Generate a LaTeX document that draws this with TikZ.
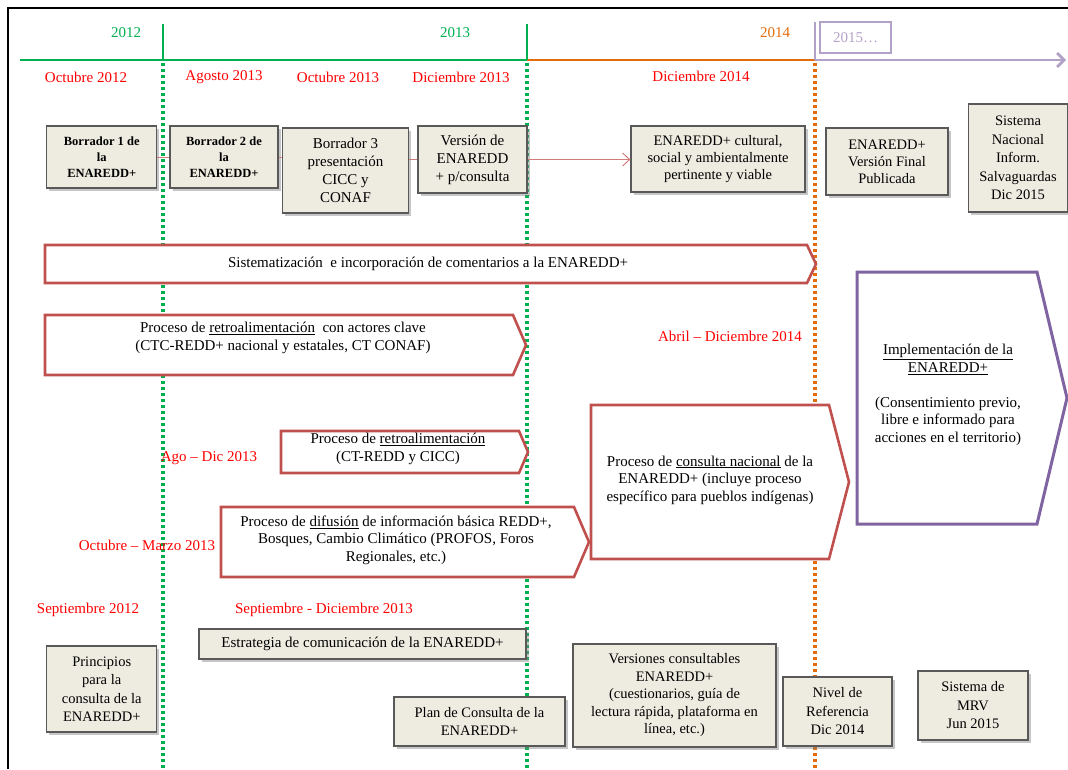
\documentclass[tikz,border=0pt]{standalone}
\usepackage{fontspec}
\setmainfont{Liberation Serif}
\usetikzlibrary{shadows,arrows.meta}
\definecolor{tlgreen}{RGB}{0,176,80}
\definecolor{tlorange}{RGB}{228,108,10}
\definecolor{tlpurple}{RGB}{179,162,199}
\definecolor{impurple}{RGB}{128,100,162}
\definecolor{arrred}{RGB}{192,80,77}
\definecolor{boxfill}{RGB}{238,236,225}
\definecolor{boxdraw}{RGB}{89,89,89}
\tikzset{
  every node/.style={font=\fontsize{15}{17.5}\selectfont},
  box/.style={draw=boxdraw,line width=1.3pt,fill=boxfill,align=center,inner sep=1pt,
    drop shadow={shadow xshift=2.5pt,shadow yshift=-2.5pt,opacity=.45}},
  redlbl/.style={text=red,inner sep=0pt},
  pent/.style={draw=arrred,line width=2.6pt,fill=white,line join=miter},
  ptext/.style={align=center,inner sep=0pt},
  link/.style={draw=arrred!75,line width=1pt},
  gdots/.style={draw=tlgreen,line width=3.2pt,dash pattern=on 3pt off 3pt},
  odots/.style={draw=tlorange,line width=3.2pt,dash pattern=on 3pt off 3pt},
}
\begin{document}
\begin{tikzpicture}[x=1pt,y=-1pt]
\useasboundingbox (0,0) rectangle (1068,769);
% frame
\draw[line width=1.8pt] (8,769) -- (8,8) -- (1068,8);
% timeline
\draw[tlgreen,line width=2.8pt] (20,60) -- (527,60);
\draw[tlorange,line width=2.8pt] (527,60) -- (815,60);
\draw[tlpurple,line width=2.8pt,-{Straight Barb[length=7pt,width=14pt]}] (815,60) -- (1066,60);
\draw[tlgreen,line width=2.8pt] (163,24) -- (163,60);
\draw[tlgreen,line width=2.8pt] (527,24) -- (527,60);
\draw[tlpurple,line width=2.8pt] (815,22) -- (815,60);
\node[text=tlgreen] (y12) at (126,33) {2012};
\node[text=tlgreen] (y13) at (455,33) {2013};
\node[text=tlorange] (y14) at (775,33) {2014};
\node[draw=tlpurple,line width=1.2pt,text=tlpurple,minimum width=71pt,minimum height=31pt] (y15) at (855.5,37.5) {2015…};
% dotted verticals
\draw[gdots] (163,63) -- (163,769);
\draw[gdots] (527,63) -- (527,769);
\draw[odots] (815,63) -- (815,769);
% red date labels
\node[redlbl] (l1) at (86,77) {Octubre 2012};
\node[redlbl] (l2) at (224,77) {Agosto 2013};
\node[redlbl] (l3) at (338,77) {Octubre  2013};
\node[redlbl] (l4) at (461,77) {Diciembre 2013};
\node[redlbl] (l5) at (701,76) {Diciembre  2014};
\node[redlbl] (l6) at (730,336) {Abril – Diciembre  2014};
\node[redlbl] (l7) at (209,458) {Ago – Dic 2013};
\node[redlbl] (l8) at (147,545) {Octubre – Marzo 2013};
\node[redlbl] (l9) at (88,610) {Septiembre  2012};
\node[redlbl] (l10) at (324,610) {Septiembre - Diciembre  2013};
% top row boxes
\node[box,minimum width=110pt,minimum height=62pt,font=\bfseries\fontsize{12.5}{16}\selectfont] (b1) at (101.75,157) {Borrador 1 de\\la\\ENAREDD+};
\node[box,minimum width=108pt,minimum height=62pt,font=\bfseries\fontsize{12.5}{16}\selectfont] (b2) at (224,157) {Borrador 2 de\\la\\ENAREDD+};
\node[box,minimum width=126pt,minimum height=85pt,font=\fontsize{15}{18}\selectfont] (b3) at (345.5,170.5) {Borrador 3\\presentación\\CICC y\\CONAF};
\node[box,minimum width=109pt,minimum height=67pt,font=\fontsize{15}{18}\selectfont] (v) at (472.5,159.5) {Versión de\\ENAREDD\\+ p/consulta};
\node[box,minimum width=174pt,minimum height=66pt,font=\fontsize{14.5}{17}\selectfont] (cult) at (718,159) {ENAREDD+ cultural,\\social y ambientalmente\\pertinente y viable};
\node[box,minimum width=122pt,minimum height=67pt,font=\fontsize{14.5}{17}\selectfont] (fin) at (887,161.5) {ENAREDD+\\Versión Final\\Publicada};
\node[box,minimum width=99pt,minimum height=108pt,font=\fontsize{14.5}{18.5}\selectfont] (sis) at (1018,158) {Sistema\\Nacional\\Inform.\\Salvaguardas\\Dic 2015};
% connectors
\draw[link] (b1.east) -- (b2.west);
\draw[link] (b2.east) -- (b2.east -| b3.west);
\draw[link] (v.west -| b3.east) -- (v.west);
\draw[link,-{Straight Barb[length=7pt,width=13pt]}] (v.east) -- (v.east -| cult.west);
% process arrows
\draw[pent] (45,245) -- (807,245) -- (816,264) -- (807,283) -- (45,283) -- cycle;
\node[ptext] (sist) at (428,264) {Sistematización \ e incorporación de comentarios a la ENAREDD+};
\draw[pent] (45,315) -- (513,315) -- (526,345) -- (513,375) -- (45,375) -- cycle;
\node[ptext] (r1) at (283,338) {Proceso de \underline{retroalimentación} \ con actores clave\\(CTC-REDD+ nacional y estatales, CT CONAF)};
\draw[pent] (281,431) -- (519,431) -- (528,452) -- (519,473) -- (281,473) -- cycle;
\node[ptext] (r2) at (398,449) {Proceso de \underline{retroalimentación}\\(CT-REDD y CICC)};
\draw[pent] (221,507) -- (574,507) -- (589,542) -- (574,577) -- (221,577) -- cycle;
\node[ptext] (dif) at (396,540) {Proceso de \underline{difusión} de información básica REDD+,\\Bosques, Cambio Climático (PROFOS, Foros\\Regionales, etc.)};
\draw[pent] (591,405) -- (829,405) -- (849,482) -- (829,559) -- (591,559) -- cycle;
\node[ptext] (cons) at (710,480) {Proceso de \underline{consulta nacional} de la\\ENAREDD+ (incluye proceso\\específico para pueblos indígenas)};
\draw[draw=impurple,line width=3pt,fill=white,line join=miter] (857,272) -- (1037,272) -- (1067,398) -- (1037,524) -- (857,524) -- cycle;
\node[ptext] (impl) at (948,395) {\underline{Implementación de la}\\\underline{ENAREDD+}\\[17.5pt](Consentimiento previo,\\libre e informado para\\acciones en el territorio)};
% bottom boxes
\node[box,minimum width=327pt,minimum height=30pt] (estr) at (362.5,644) {Estrategia de comunicación de la ENAREDD+};
\node[box,minimum width=110pt,minimum height=86pt,font=\fontsize{14.5}{18.5}\selectfont] (prin) at (101.75,689) {Principios\\para la\\consulta de la\\ENAREDD+};
\node[box,minimum width=171pt,minimum height=49pt,font=\fontsize{14.5}{18.5}\selectfont] (plan) at (479.5,721.5) {Plan de Consulta de la\\ENAREDD+};
\node[box,minimum width=203pt,minimum height=103pt,font=\fontsize{14.5}{17.5}\selectfont] (vers) at (674.5,695.5) {Versiones consultables\\ENAREDD+\\(cuestionarios, guía de\\lectura rápida, plataforma en\\línea, etc.)};
\node[box,minimum width=109pt,minimum height=69pt,font=\fontsize{14.5}{18.5}\selectfont] (niv) at (837.5,711.5) {Nivel de\\Referencia\\Dic 2014};
\node[box,minimum width=110pt,minimum height=69pt,font=\fontsize{14.5}{18.5}\selectfont] (mrv) at (973,705.5) {Sistema de\\MRV\\Jun 2015};
\end{tikzpicture}
\end{document}
